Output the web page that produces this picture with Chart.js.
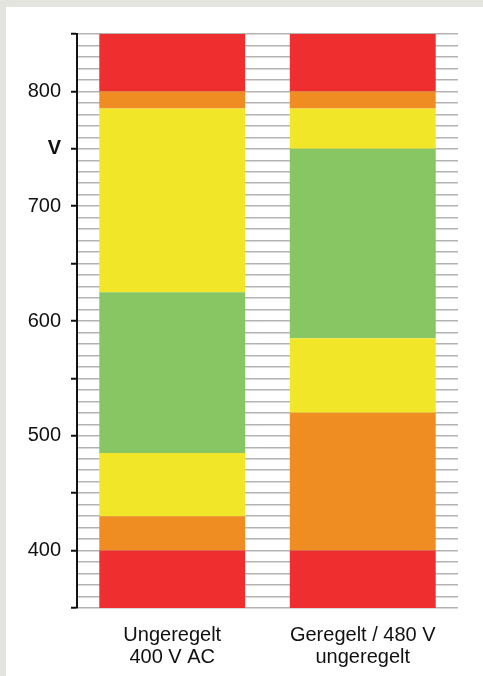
<!DOCTYPE html>
<html>
<head>
<meta charset="utf-8">
<script src="https://cdn.jsdelivr.net/npm/chart.js@4"></script>
<style>
  html, body { margin:0; padding:0; background:#e4e4df; width:483px; height:676px; overflow:hidden; }
  #card { position:absolute; left:6px; top:7px; right:0; bottom:0; background:#ffffff; }
  #wrap { position:absolute; left:0; top:0; width:483px; height:676px; }
</style>
</head>
<body>
<div id="card"></div>
<div id="wrap"><canvas id="c"></canvas></div>
<script>
// Categories (x-axis labels, multi-line)
const categories = [['Ungeregelt', '400 V AC'], ['Geregelt / 480 V', 'ungeregelt']];
// Segment boundaries (V), bottom to top, for each bar
const boundsUngeregelt = [350, 400, 430, 485, 625, 785, 800, 850];
const boundsGeregelt   = [350, 400, 520, 585, 750, 785, 800, 850];
// Segment colours, bottom to top
const segmentColors = ['#ee2e2f', '#ef8d22', '#f2e629', '#87c662', '#f2e629', '#ef8d22', '#ee2e2f'];
// Y tick labels
const yMin = 350, yMax = 850, yStep = 10;
const labeledTicks = {400: '400', 500: '500', 600: '600', 700: '700', 750: 'V', 800: '800'};

const datasets = segmentColors.map((col, i) => ({
  label: 'S' + i,
  data: [[boundsUngeregelt[i], boundsUngeregelt[i + 1]], [boundsGeregelt[i], boundsGeregelt[i + 1]]],
  backgroundColor: col,
  borderWidth: 0,
  borderSkipped: false,
  barPercentage: 0.766,
  categoryPercentage: 1.0
}));

new Chart(document.getElementById('c'), {
  type: 'bar',
  data: { labels: categories, datasets },
  options: {
    responsive: true,
    maintainAspectRatio: false,
    animation: false,
    layout: { padding: { top: 34, right: 25, left: 0, bottom: 0 } },
    plugins: { legend: { display: false }, tooltip: { enabled: false } },
    scales: {
      x: {
        stacked: true,
        grid: { display: false },
        border: { display: false },
        ticks: {
          color: '#111111',
          font: { family: 'Liberation Sans, Arial, sans-serif', size: 20, lineHeight: 1.1 },
          padding: 8,
          maxRotation: 0
        },
        afterFit: s => { s.height = 68; }
      },
      y: {
        stacked: false,
        min: yMin, max: yMax,
        grid: {
          color: '#b3b3b3',
          lineWidth: 1.5,
          tickLength: 6,
          tickColor: ctx => (ctx.tick && ctx.tick.value % 50 === 0) ? '#111111' : 'rgba(0,0,0,0)',
          tickWidth: 2
        },
        border: { display: true, color: '#111111', width: 2 },
        ticks: {
          stepSize: yStep,
          autoSkip: false,
          maxTicksLimit: 100,
          padding: 10,
          color: '#111111',
          font: ctx => ({ family: 'Liberation Sans, Arial, sans-serif', size: 20,
                          weight: (ctx.tick && ctx.tick.value === 750) ? 'bold' : 'normal' }),
          callback: v => labeledTicks[v] || ''
        },
        afterFit: s => { s.width = 77; }
      }
    }
  }
});
</script>
</body>
</html>
